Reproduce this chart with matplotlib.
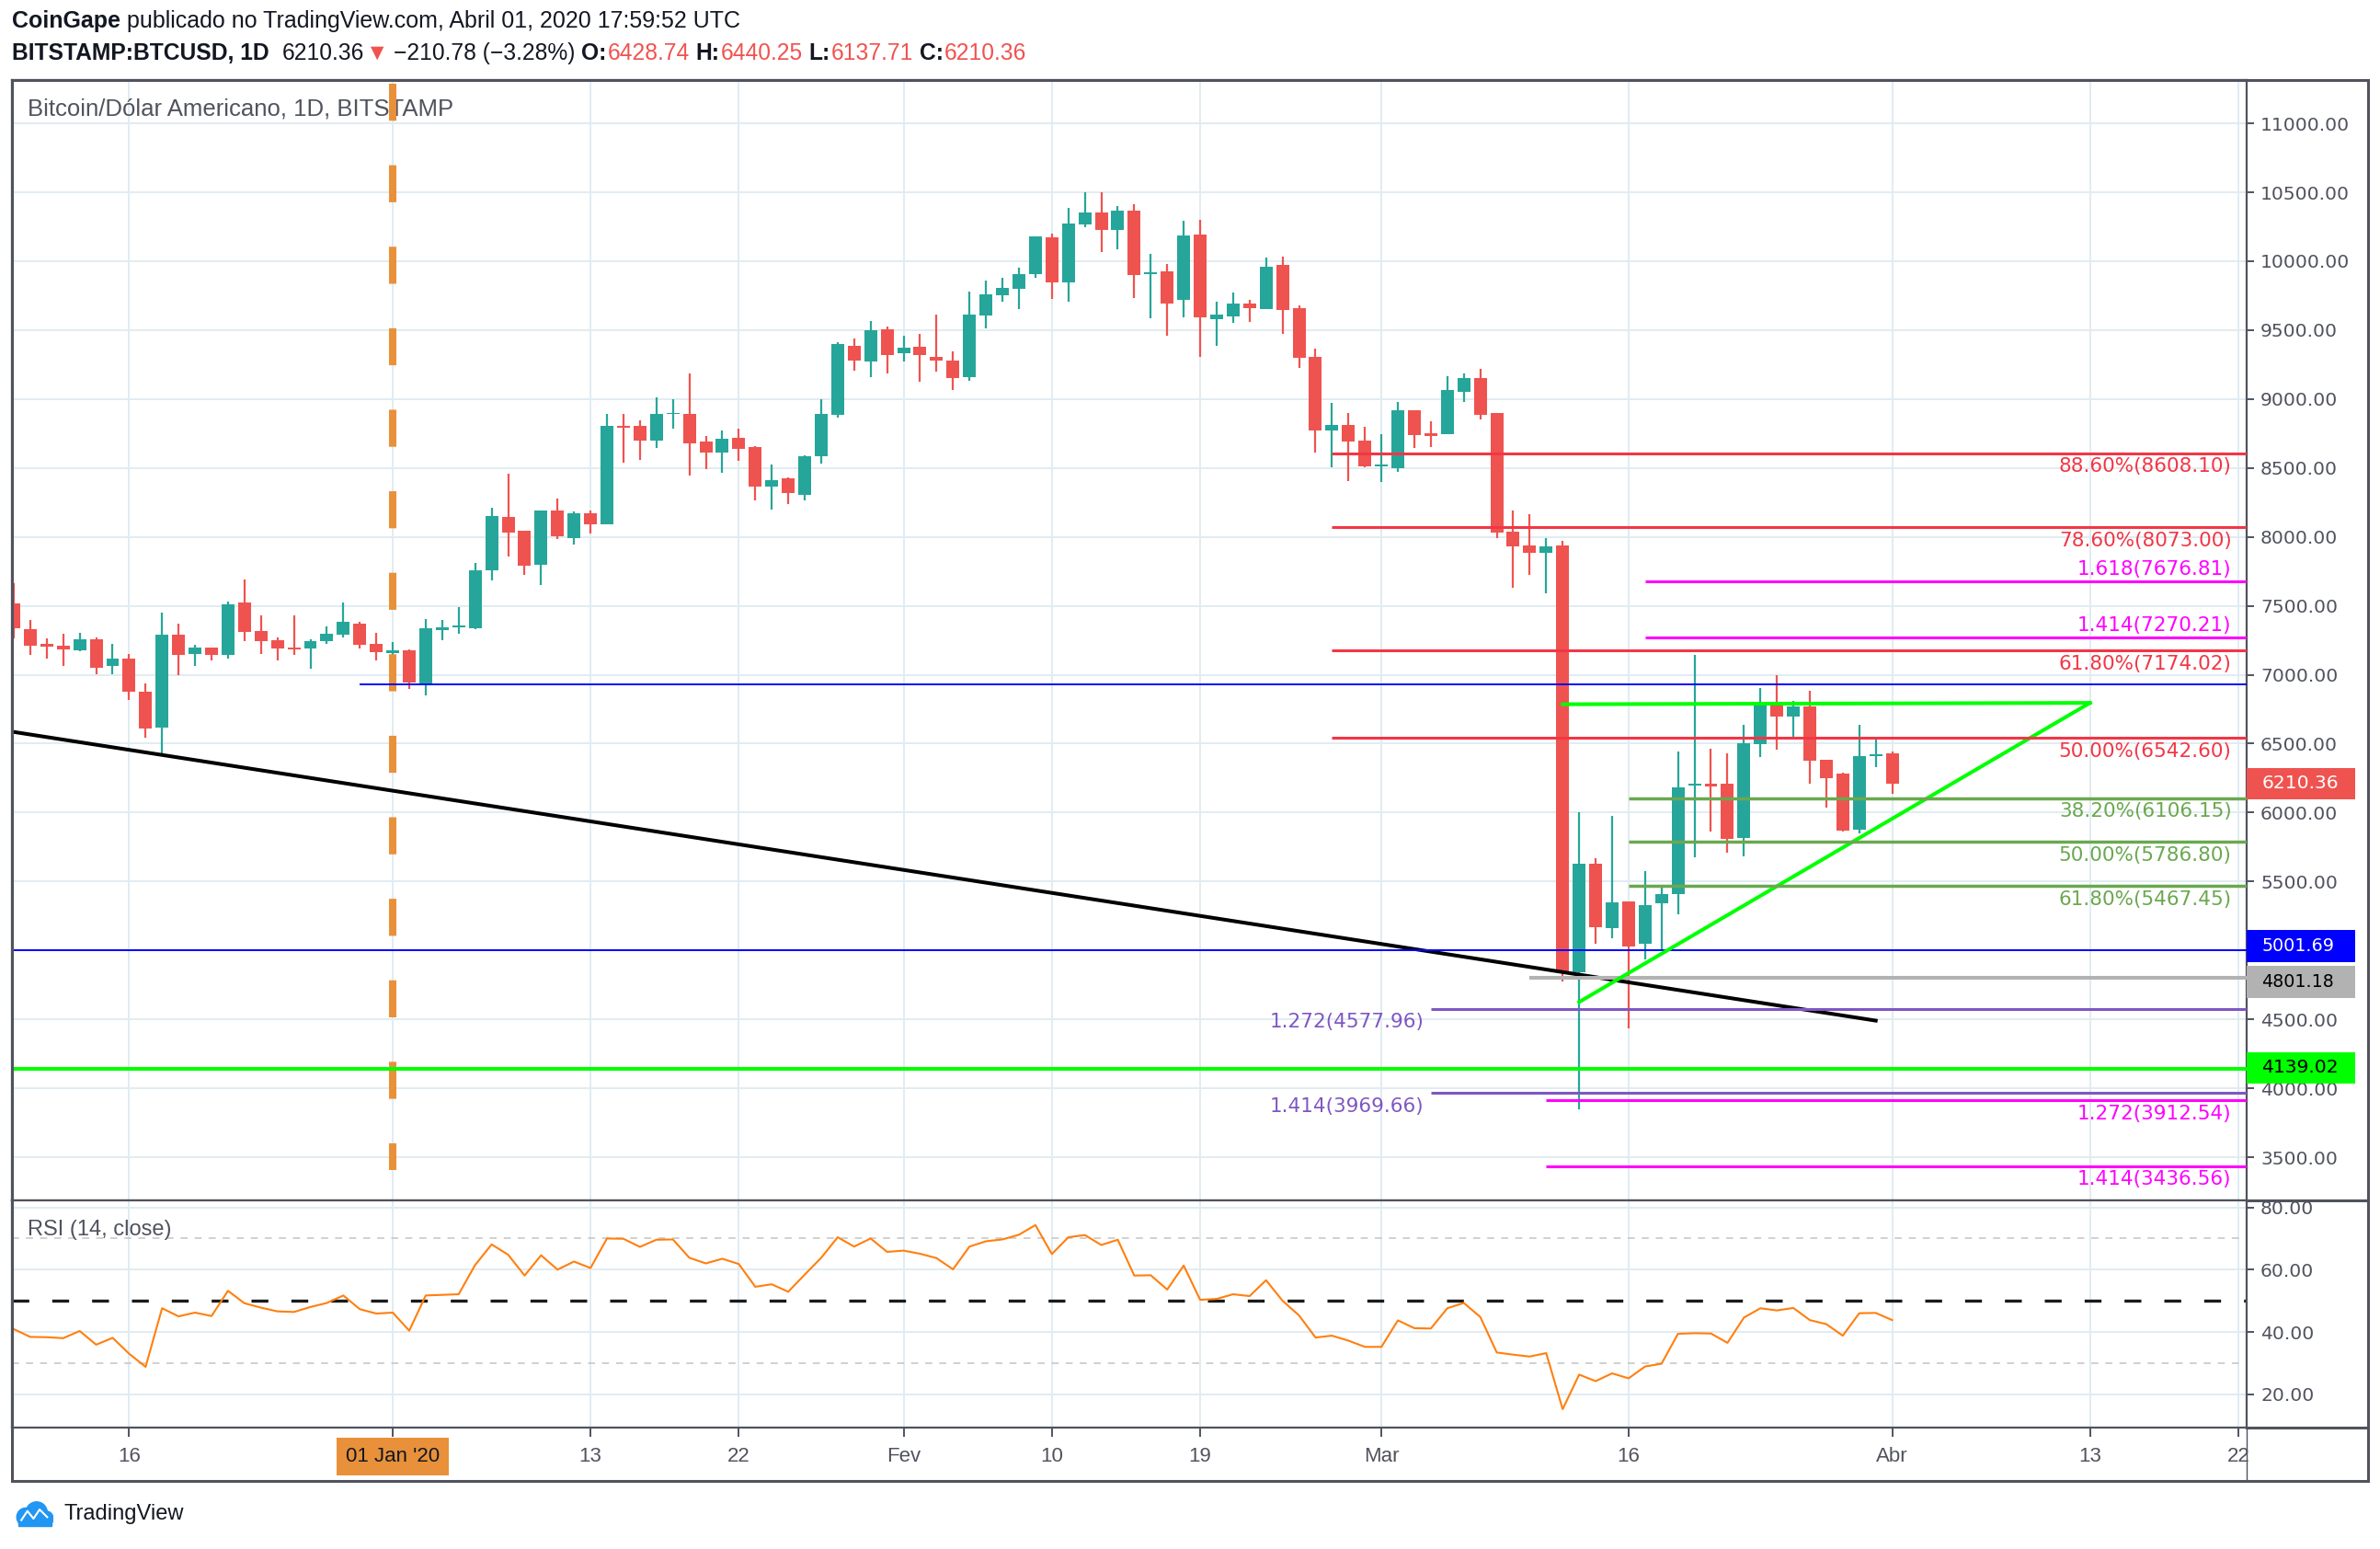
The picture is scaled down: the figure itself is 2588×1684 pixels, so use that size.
import numpy as np
import pandas as pd
import matplotlib
matplotlib.use("Agg")
import matplotlib.pyplot as plt
import matplotlib.transforms as mtrans
from matplotlib.patches import Rectangle, Circle
from matplotlib.lines import Line2D

plt.rcParams["font.family"] = ["Liberation Sans", "DejaVu Sans"]

# ---------------- dados (BITSTAMP:BTCUSD, 1D) ----------------
base = pd.Timestamp("2020-01-01")
datas = pd.date_range("2019-12-09", "2020-04-01", freq="D")

abertura = [7517, 7330, 7222, 7209, 7177, 7256, 7064, 7115, 6880, 6614, 7289, 7151, 7195, 7144, 7524, 7316, 7249, 7195, 7191, 7245, 7292, 7370, 7222,
            7160, 7175, 6936, 7325, 7344, 7337, 7758, 8146, 8046, 7799, 8193, 7992, 8173, 8093, 8808, 8808, 8701, 8889, 8895, 8695, 8614, 8721, 8654, 8367, 8427, 8307, 8588, 8886, 9389, 9275, 9509,
            9335, 9382, 9308, 9281, 9161, 9609, 9750, 9797, 9904, 10172, 9844, 10266, 10353, 10225, 10366, 9904, 9924, 9717, 10191, 9581, 9601, 9695, 9654, 9970, 9661, 9305, 8769, 8809, 8701,
            8514, 8500, 8916, 8755, 8748, 9051, 9151, 8898, 8036, 7938, 7883, 7935, 4842, 5631, 5165, 5356, 5050, 5339, 5411, 6196, 6210, 6208, 5818, 6497, 6777, 6696, 6770, 6380, 6280, 5877, 6413,
            6428.74]
maxima = [7665, 7397, 7267, 7296, 7303, 7269, 7222, 7148, 6934, 7450, 7370, 7215, 7195, 7531, 7692, 7430, 7269, 7430, 7256, 7350, 7524, 7383, 7303,
          7236, 7182, 7403, 7397, 7491, 7812, 8213, 8461, 8046, 8193, 8280, 8186, 8193, 8889, 8895, 8848, 9009, 8996, 9183, 8735, 8775, 8788, 8661, 8527, 8434, 8594, 9002, 9415, 9442, 9569, 9529,
          9462, 9476, 9616, 9348, 9777, 9857, 9877, 9951, 10179, 10199, 10386, 10500, 10500, 10400, 10413, 10051, 9978, 10292, 10299, 9708, 9775, 9722, 10024, 10030, 9681, 9366, 8970, 8896, 8802,
          8748, 8977, 8916, 8842, 9165, 9185, 9218, 8898, 8193, 8162, 7989, 7973, 6000, 5672, 5973, 5356, 5576, 5457, 6442, 7145, 6466, 6428, 6636, 6904, 6995, 6808, 6882, 6380, 6287, 6636, 6533,
          6440.25]
minima = [7267, 7144, 7117, 7064, 7171, 7003, 7003, 6815, 6541, 6418, 6996, 7064, 7104, 7117, 7245, 7151, 7104, 7144, 7043, 7224, 7271, 7191, 7104,
          7144, 6896, 6849, 7251, 7299, 7330, 7685, 7859, 7725, 7651, 7986, 7946, 8026, 8093, 8541, 8561, 8648, 8788, 8447, 8494, 8467, 8554, 8267, 8200, 8240, 8267, 8534, 8866, 9208, 9161, 9188,
          9275, 9127, 9201, 9067, 9134, 9516, 9703, 9650, 9877, 9723, 9703, 10246, 10065, 10085, 9730, 9589, 9462, 9596, 9305, 9386, 9554, 9560, 9654, 9473, 9225, 8614, 8507, 8406, 8505,
          8399, 8473, 8648, 8655, 8748, 8977, 8849, 7993, 7633, 7727, 7590, 4777, 3849, 5050, 5088, 4435, 4938, 5009, 5265, 5674, 5866, 5710, 5684, 6404, 6454, 6528, 6208, 6033, 5860, 5851, 6332,
          6137.71]
fechamento = [7338, 7211, 7207, 7184, 7256, 7050, 7115, 6876, 6608, 7289, 7144, 7195, 7144, 7511, 7312, 7245, 7191, 7184, 7242, 7296, 7383, 7218, 7164,
              7175, 6943, 7336, 7343, 7355, 7758, 8153, 8033, 7792, 8193, 8006, 8173, 8093, 8808, 8795, 8701, 8889, 8902, 8681, 8614, 8715, 8641, 8367, 8414, 8320, 8588, 8889, 9402, 9281, 9502, 9322,
              9375, 9322, 9281, 9154, 9616, 9757, 9804, 9904, 10179, 9844, 10272, 10353, 10225, 10366, 9897, 9917, 9690, 10185, 9590, 9614, 9695, 9661, 9963, 9648, 9299, 8769, 8809, 8695, 8514,
              8527, 8916, 8742, 8735, 9064, 9151, 8883, 8032, 7934, 7883, 7930, 4842, 5631, 5172, 5349, 5028, 5330, 5408, 6186, 6210, 6188, 5811, 6502, 6777, 6696, 6770, 6378, 6253, 5870, 6413, 6425,
              6210.36]

rsi = [40.9, 38.4, 38.3, 38.0, 40.3, 35.9, 38.1, 33.0, 28.8, 47.6,
       45.0, 46.2, 45.1, 53.2, 49.2, 47.8, 46.6, 46.4, 48.0, 49.3,
       51.7, 47.3, 45.9, 46.2, 40.4, 51.7, 51.9, 52.1, 61.5, 68.1,
       64.8, 58.1, 64.6, 60.0, 62.6, 60.5, 70.0, 69.9, 67.3, 69.6,
       69.7, 63.8, 62.0, 63.5, 61.8, 54.5, 55.3, 52.9, 58.4, 63.8,
       70.4, 67.4, 70.0, 65.7, 66.1, 65.1, 63.7, 60.1, 67.4, 69.1,
       69.7, 71.2, 74.3, 65.0, 70.4, 71.1, 67.9, 69.6, 58.1, 58.2,
       53.6, 61.3,
       50.3, 50.6, 52.1, 51.5, 56.6, 50.0, 45.3, 38.2, 38.8, 37.2,
       35.2, 35.2, 43.7, 41.2, 41.1, 47.6, 49.3, 44.8, 33.4, 32.7,
       32.1, 33.2, 15.2, 26.3, 24.2, 26.7, 25.1, 28.9, 29.8, 39.4,
       39.6, 39.5, 36.5, 44.6, 47.6, 46.9, 47.7, 43.8, 42.5, 38.8,
       46.0, 46.1, 43.8]

tick_datas = ["2019-12-16", "2020-01-01", "2020-01-13", "2020-01-22", "2020-02-01", "2020-02-10",
              "2020-02-19", "2020-03-01", "2020-03-16", "2020-04-01", "2020-04-13", "2020-04-22"]
tick_rotulos = ["16", "01 Jan '20", "13", "22", "Fev", "10", "19", "Mar", "16", "Abr", "13", "22"]
precos_eixo = list(range(3500, 11001, 500))
rsi_eixo = [20, 40, 60, 80]

# desenhos (niveis de fibonacci / linhas)
fib_verm = [8608.10, 8073.00, 7174.02, 6542.60]
fib_verm_txt = ["88.60%", "78.60%", "61.80%", "50.00%"]
fib_verm_ini = "2020-02-27"
fib_verde = [6106.15, 5786.80, 5467.45]
fib_verde_txt = ["38.20%", "50.00%", "61.80%"]
fib_verde_ini = "2020-03-16"
ext_mag_alto = [7676.81, 7270.21]
ext_mag_alto_txt = ["1.618", "1.414"]
ext_mag_alto_ini = "2020-03-17"
ext_mag_baixo = [3912.54, 3436.56]
ext_mag_baixo_txt = ["1.272", "1.414"]
ext_mag_baixo_ini = "2020-03-11"
ext_roxo = [4577.96, 3969.66]
ext_roxo_txt = ["1.272", "1.414"]
ext_roxo_ini = "2020-03-04"
azul_alto, azul_alto_ini = 6930.0, "2019-12-30"
azul_baixo = 5001.69
cinza_nivel, cinza_ini = 4801.18, "2020-03-10"
verde_nivel = 4139.02
tendencia_datas = ["2019-12-09", "2020-03-31"]
tendencia_precos = [6585, 4491]
tri_sup_datas, tri_sup_precos = ["2020-03-12", "2020-04-13"], [6786, 6796]
tri_inf_datas, tri_inf_precos = ["2020-03-13", "2020-04-13"], [4626, 6796]
ultimo = 6210.36

# ---------------- cores ----------------
VERDE = "#26a69a"
VERMELHO = "#ef5350"
ESCURO = "#50535e"
GRADE = "#e1ecf2"
FIB_VERM = "#f23645"
MAGENTA = "#ff00ff"
OLIVA = "#6aa84f"
ROXO = "#7e57c2"
LARANJA = "#e8913a"


def dia(s):
    return (pd.Timestamp(s) - base).days


x = np.array((datas - base).days, dtype=float)
o = np.array(abertura, float)
h = np.array(maxima, float)
l = np.array(minima, float)
c = np.array(fechamento, float)
cores = [VERDE if cc >= oo else VERMELHO for oo, cc in zip(o, c)]
tick_x = [dia(d) for d in tick_datas]
XMIN, XMAX = -23.1, 112.5

fig = plt.figure(figsize=(25.88, 16.84), dpi=100)
fig.patch.set_facecolor("white")
ax = fig.add_axes([0.0051, 0.2248, 0.9388, 0.7235])
ax2 = fig.add_axes([0.0051, 0.0784, 0.9388, 0.1464], sharex=ax)

# ---------------- velas ----------------
ax.vlines(x, l, h, colors=cores, lw=1.6, zorder=3)
ax.bar(x, np.maximum(np.abs(c - o), 12), bottom=np.minimum(o, c), width=0.78, color=cores, lw=0, zorder=4)

ax.set_xlim(XMIN, XMAX)
ax.set_ylim(3184, 11314)
ax.set_yticks(precos_eixo)
# o rotulo 5000.00 fica escondido atras da caixa azul (5001.69)
ax.set_yticklabels(["" if v == 5000 else f"{v:.2f}" for v in precos_eixo])
ax.set_xticks(tick_x)
ax.grid(True, color=GRADE, lw=1.4, zorder=0)
ax.set_axisbelow(True)
ax.yaxis.tick_right()
ax.tick_params(axis="y", length=6, width=1.4, color=ESCURO, pad=5, labelsize=14.6, labelcolor=ESCURO)
ax.tick_params(axis="x", length=0, labelbottom=False)
for lb in ax.get_yticklabels():
    lb.set_family("DejaVu Sans")
for s in ax.spines.values():
    s.set_color(ESCURO)
    s.set_linewidth(1.6)

# ---------------- desenhos ----------------
z = 6
ax.plot([0, 0], [11290, 3410], color=LARANJA, lw=5.8, dashes=(5, 6), zorder=z)
ax.plot([dia(d) for d in tendencia_datas], tendencia_precos, color="black", lw=2.9, zorder=z)
ax.hlines(azul_alto, dia(azul_alto_ini), XMAX, color="#0000ff", lw=1.4, zorder=z)
ax.hlines(azul_baixo, XMIN, XMAX, color="#0000ff", lw=1.4, zorder=z)
ax.hlines(verde_nivel, XMIN, XMAX, color="#00ff00", lw=2.9, zorder=z)
ax.hlines(cinza_nivel, dia(cinza_ini), XMAX, color="#b2b2b2", lw=2.9, zorder=z)
ax.plot([dia(d) for d in tri_sup_datas], tri_sup_precos, color="#00ff00", lw=2.9, zorder=z)
ax.plot([dia(d) for d in tri_inf_datas], tri_inf_precos, color="#00ff00", lw=2.9, zorder=z)

x_rot = XMAX - 0.9


def niveis(vals, txts, ini, cor, lw, dy, xr=None, ha="right"):
    for v, t in zip(vals, txts):
        ax.hlines(v, dia(ini), XMAX, color=cor, lw=lw, zorder=z)
        ax.annotate(f"{t}({v:.2f})", xy=(x_rot if xr is None else xr, v), xytext=(0, dy),
                    textcoords="offset points", ha=ha, va="center", color=cor,
                    fontsize=15.5, family="DejaVu Sans", zorder=z + 1)


niveis(fib_verm, fib_verm_txt, fib_verm_ini, FIB_VERM, 2.2, -10.7)
niveis(fib_verde, fib_verde_txt, fib_verde_ini, OLIVA, 2.5, -10.7)
niveis(ext_mag_alto, ext_mag_alto_txt, ext_mag_alto_ini, MAGENTA, 2.2, 9.5)
niveis(ext_mag_baixo, ext_mag_baixo_txt, ext_mag_baixo_ini, MAGENTA, 2.2, -10.7)
niveis(ext_roxo, ext_roxo_txt, ext_roxo_ini, ROXO, 2.2, -10.7, xr=dia(ext_roxo_ini) - 0.4)

# caixas no eixo de precos
tr = mtrans.blended_transform_factory(ax.transAxes, ax.transData)


def caixa(valor, fundo, cor_txt, desloc=0.0, tam=14.6):
    ax.add_patch(Rectangle((1.0, valor + desloc - 115), 0.0488, 230, transform=tr, facecolor=fundo,
                           edgecolor="none", clip_on=False, zorder=10))
    ax.text(1.0068, valor + desloc, f"{valor:.2f}", transform=tr, ha="left", va="center", color=cor_txt,
            fontsize=tam, family="DejaVu Sans", clip_on=False, zorder=11)


caixa(ultimo, VERMELHO, "white")
caixa(azul_baixo, "#0000ff", "white", 30, 13.8)
caixa(cinza_nivel, "#b2b2b2", "black", -30, 13.8)
caixa(verde_nivel, "#00ff00", "black", 10)

ax.text(0.0068, 0.9738, "Bitcoin/Dólar Americano, 1D, BITSTAMP", transform=ax.transAxes,
        color=ESCURO, fontsize=18.5, va="center", ha="left")

# ---------------- RSI ----------------
ax2.plot(x, rsi, color="#ff7f0e", lw=1.5, zorder=3)
ax2.axhline(70, color="#c3c3c3", lw=1.1, dashes=(5, 5), zorder=2)
ax2.axhline(30, color="#c3c3c3", lw=1.1, dashes=(5, 5), zorder=2)
ax2.axhline(50, color="#1a1a1a", lw=2.4, dashes=(5.5, 7.5), zorder=2)
ax2.set_ylim(9.3, 82.1)
ax2.set_yticks(rsi_eixo)
ax2.set_yticklabels([f"{v:.2f}" for v in rsi_eixo])
ax2.grid(True, color=GRADE, lw=1.4, zorder=0)
ax2.set_axisbelow(True)
ax2.yaxis.tick_right()
ax2.tick_params(axis="y", length=6, width=1.4, color=ESCURO, pad=5, labelsize=14.6, labelcolor=ESCURO)
ax2.set_xticks(tick_x)
ax2.set_xticklabels(tick_rotulos)
ax2.tick_params(axis="x", length=7, width=1.4, color=ESCURO, pad=8, labelsize=16, labelcolor=ESCURO)
for lb in ax2.get_yticklabels():
    lb.set_family("DejaVu Sans")
rot_jan = ax2.get_xticklabels()[1]
rot_jan.set_bbox(dict(facecolor=LARANJA, edgecolor="none", boxstyle="square,pad=0.45"))
rot_jan.set_color("#131722")
for s in ax2.spines.values():
    s.set_color(ESCURO)
    s.set_linewidth(1.6)
ax2.text(0.0068, 0.871, "RSI (14, close)", transform=ax2.transAxes, color=ESCURO, fontsize=17,
         va="center", ha="left")

# moldura externa
fig.add_artist(Rectangle((0.0051, 0.0441), 0.9898, 0.9042, transform=fig.transFigure, fill=False,
                         edgecolor=ESCURO, lw=2.2))
for yy in (0.2248, 0.0784):
    fig.add_artist(Line2D([0.9439, 0.9949], [yy, yy], transform=fig.transFigure, color=ESCURO, lw=2.2))
fig.add_artist(Line2D([0.9439, 0.9439], [0.0441, 0.0784], transform=fig.transFigure, color=ESCURO, lw=1.0))

# ---------------- cabecalho ----------------
rend = fig.canvas.get_renderer()


def linha(x0, y, partes, tam):
    xp = x0
    for s, cor, peso, gap in partes:
        t = fig.text(xp, y, s, color=cor, fontweight=peso, fontsize=tam, va="center", ha="left")
        bb = t.get_window_extent(renderer=rend)
        xp = bb.x1 / fig.bbox.width + gap


esp = 0.0026
linha(0.0051, 0.9863, [("CoinGape", "#131722", "bold", esp),
                       ("publicado no TradingView.com, Abril 01, 2020 17:59:52 UTC", "#131722", "normal", 0)], 18)
linha(0.0051, 0.9657, [("BITSTAMP:BTCUSD, 1D", "#131722", "bold", 2 * esp),
                       ("6210.36", "#131722", "normal", 0.0006),
                       ("▼", VERMELHO, "normal", esp),
                       ("−210.78 (−3.28%)", "#131722", "normal", esp),
                       ("O:", "#131722", "bold", 0.0004), ("6428.74", VERMELHO, "normal", esp),
                       ("H:", "#131722", "bold", 0.0004), ("6440.25", VERMELHO, "normal", esp),
                       ("L:", "#131722", "bold", 0.0004), ("6137.71", VERMELHO, "normal", esp),
                       ("C:", "#131722", "bold", 0.0004), ("6210.36", VERMELHO, "normal", 0)], 17.7)

# ---------------- rodape ----------------
ax_logo = fig.add_axes([0.0064, 0.0137, 0.016, 0.0177])
ax_logo.set_xlim(0, 25)
ax_logo.set_ylim(0, 18)
ax_logo.axis("off")
for cx, cy, r in [(7, 7, 6), (14, 10, 7), (20, 6, 5)]:
    ax_logo.add_patch(Circle((cx, cy), r, color="#2196f3"))
ax_logo.add_patch(Rectangle((2, 1), 22, 5, color="#2196f3"))
ax_logo.plot([4, 8, 12, 16, 21], [5, 11, 6, 12, 7], color="white", lw=1.5)
fig.text(0.0268, 0.0225, "TradingView", fontsize=17, color="#131722", va="center", ha="left")

fig.savefig("out.png", dpi=100)
